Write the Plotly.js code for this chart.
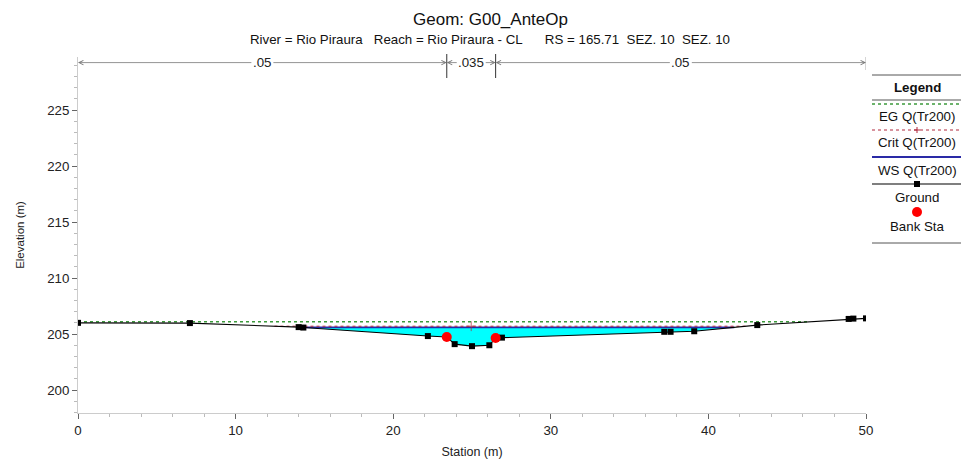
<!DOCTYPE html>
<html><head><meta charset="utf-8">
<script src="https://cdn.plot.ly/plotly-3.0.1.min.js"></script>
<style>html,body{margin:0;padding:0;background:#fff}#chart{width:961px;height:463px}</style>
</head><body><div id="chart"></div>
<script>
// ---- data ----
const station   = [0, 7.1, 14.0, 14.3, 22.2, 23.4, 23.9, 25.0, 26.1, 26.5, 26.9, 37.2, 37.6, 39.1, 43.1, 48.9, 49.2, 50.0];
const elevation = [206.0, 205.98, 205.62, 205.58, 204.82, 204.74, 204.1, 203.92, 204.0, 204.65, 204.68, 205.2, 205.2, 205.25, 205.8, 206.35, 206.38, 206.4];
const bankStations = [23.4, 26.5];
const nValues = ['.05', '.035', '.05'];
const profile = 'Q(Tr200)';
const wsElev = 205.6;
const critElev = 205.7;
const egElev = 206.1;
const titleText = 'Geom: G00_AnteOp';
const subtitleText = 'River = Rio Piraura\u00a0\u00a0 Reach = Rio Piraura - CL\u00a0\u00a0\u00a0\u00a0\u00a0 RS = 165.71\u00a0 SEZ. 10\u00a0 SEZ. 10';

// ---- helpers ----
function groundAt(x){
  for(let i=0;i<station.length-1;i++){
    if(x>=station[i] && x<=station[i+1]){
      const t=(x-station[i])/(station[i+1]-station[i]);
      return elevation[i]+t*(elevation[i+1]-elevation[i]);
    }
  }
  return elevation[elevation.length-1];
}
function extent(level){
  const iMin = elevation.indexOf(Math.min(...elevation));
  let xl = station[0], xr = station[station.length-1];
  for(let i=iMin;i>0;i--){
    if(elevation[i-1]>=level){
      const t=(level-elevation[i])/(elevation[i-1]-elevation[i]);
      xl = station[i]+(station[i-1]-station[i])*t; break;
    }
  }
  for(let i=iMin;i<station.length-1;i++){
    if(elevation[i+1]>=level){
      const t=(level-elevation[i])/(elevation[i+1]-elevation[i]);
      xr = station[i]+(station[i+1]-station[i])*t; break;
    }
  }
  return [xl,xr];
}

const [wl, wr] = extent(wsElev);
const [cl, cr] = extent(critElev);
const [el, er] = extent(egElev);

// water polygon
const polyX=[wl], polyY=[wsElev];
station.forEach((s,i)=>{ if(s>wl && s<wr){ polyX.push(s); polyY.push(elevation[i]); }});
polyX.push(wr, wl); polyY.push(wsElev, wsElev);

const chMid = (bankStations[0]+bankStations[1])/2;

const colEG='#3c9a3c', colCrit='#b0283c', colWS='#2a2aa6', colWater='#00ffff';

const traces = [
  {x:polyX, y:polyY, mode:'lines', fill:'toself', fillcolor:colWater, line:{width:0}, hoverinfo:'skip', name:'water'},
  {x:[wl,wr], y:[wsElev,wsElev], mode:'lines', line:{color:colWS, width:1.8}, name:'WS '+profile},
  {x:[cl,chMid,cr], y:[critElev,critElev,critElev], mode:'lines+markers', line:{color:colCrit, width:1, dash:'dot'},
   marker:{symbol:'cross-thin', size:[0,7,0], line:{color:colCrit, width:1}}, name:'Crit '+profile},
  {x:[el,er], y:[egElev,egElev], mode:'lines', line:{color:colEG, width:1.5, dash:'dot'}, name:'EG '+profile},
  {x:station, y:elevation, mode:'lines+markers', line:{color:'#000', width:1.1}, marker:{symbol:'square', size:6, color:'#000'}, name:'Ground'},
  {x:bankStations, y:bankStations.map(groundAt), mode:'markers', marker:{symbol:'circle', size:10, color:'#ff0000'}, name:'Bank Sta'}
];

// ---- pixel helpers for decorations ----
const L=78, R=866, T=57, B=413;
const px2x = px => (px-L)/(R-L);
const py2y = py => (B-py)/(B-T);

const yRange=[197.95, 229.74];
const yArrow = yRange[1]-0.5;

const annotations = [];
const shapes = [];

// titles
annotations.push({xref:'paper', yref:'paper', x:px2x(490), y:py2y(20), text:titleText, showarrow:false, font:{size:17, color:'#111'}, xanchor:'center', yanchor:'middle'});
annotations.push({xref:'paper', yref:'paper', x:px2x(490), y:py2y(39), text:subtitleText, showarrow:false, font:{size:13.3, color:'#111'}, xanchor:'center', yanchor:'middle'});

// n-values
const nBounds = [station[0], ...bankStations, station[station.length-1]];
for(let i=0;i<nValues.length;i++){
  const a=nBounds[i], b=nBounds[i+1], m=(a+b)/2;
  [a,b].forEach((tip,k)=>{
    annotations.push({xref:'x', yref:'y', axref:'x', ayref:'y', x:tip, y:yArrow, ax:m, ay:yArrow,
      text:nValues[i], showarrow:true, arrowhead:5, arrowsize:1.1, arrowwidth:0.8, arrowcolor:'#777', standoff:0,
      font:{size:13.3, color: k===0 ? '#222' : 'rgba(0,0,0,0)'}});
  });
}
bankStations.forEach(s=>{
  shapes.push({type:'line', xref:'x', yref:'paper', x0:s, x1:s, y0:py2y(78), y1:py2y(54), line:{color:'#333', width:1}});
});
shapes.push({type:'line', xref:'x', yref:'paper', x0:station[station.length-1], x1:station[station.length-1], y0:py2y(70), y1:py2y(57), line:{color:'#aaa', width:1}});

// custom legend
const lgL = px2x(872), lgR = px2x(961), lgC = px2x(917);
const hline = (py, color, width, dash) => shapes.push({type:'line', xref:'paper', yref:'paper', x0:lgL, x1:lgR, y0:py2y(py), y1:py2y(py), line:{color, width, dash:dash||'solid'}});
const ltext = (py, text, bold) => annotations.push({xref:'paper', yref:'paper', x:lgC, y:py2y(py), text: bold?'<b>'+text+'</b>':text, showarrow:false, font:{size:13.3, color:'#111'}, xanchor:'center', yanchor:'middle'});
hline(75, '#555', 1);
ltext(87, 'Legend', true);
hline(100, '#555', 1);
hline(104, colEG, 1.5, 'dot');  ltext(117, traces[3].name);
hline(130, colCrit, 1, 'dot');  ltext(142, traces[2].name);
shapes.push({type:'line', xref:'paper', yref:'paper', x0:px2x(914), x1:px2x(920), y0:py2y(130), y1:py2y(130), line:{color:colCrit, width:1}});
shapes.push({type:'line', xref:'paper', yref:'paper', x0:lgC, x1:lgC, y0:py2y(127), y1:py2y(133), line:{color:colCrit, width:1}});
hline(157, colWS, 1.8);         ltext(170, traces[1].name);
hline(184, '#000', 1.1);        ltext(197, traces[4].name);
shapes.push({type:'rect', xref:'paper', yref:'paper', x0:px2x(914), x1:px2x(920), y0:py2y(181), y1:py2y(187), fillcolor:'#000', line:{width:0}});
shapes.push({type:'circle', xref:'paper', yref:'paper', x0:px2x(912), x1:px2x(922), y0:py2y(207), y1:py2y(217), fillcolor:'#ff0000', line:{width:0}});
ltext(226, traces[5].name);
hline(243, '#555', 1);

const layout = {
  width:961, height:463,
  margin:{l:L, r:961-R, t:T, b:463-B, pad:0},
  paper_bgcolor:'#fff', plot_bgcolor:'#fff',
  showlegend:false,
  font:{family:'"Liberation Sans", Arial, sans-serif', size:13.3, color:'#222'},
  xaxis:{range:[0,50], dtick:10, tick0:0, ticks:'outside', ticklen:5, tickcolor:'#666', showline:true, linecolor:'#ccc', linewidth:1,
         showgrid:false, zeroline:false, tickfont:{size:13.3, color:'#222'},
         title:{text:'Station (m)', font:{size:12.5, color:'#222'}, standoff:10},
         minor:{dtick:2, ticks:'outside', ticklen:3, tickcolor:'#bbb', showgrid:false}},
  yaxis:{range:yRange, dtick:5, tick0:200, ticks:'outside', ticklen:5, tickcolor:'#666', showline:true, linecolor:'#ccc', linewidth:1,
         showgrid:false, zeroline:false, tickfont:{size:13.3, color:'#222'},
         title:{text:'Elevation (m)', font:{size:11.5, color:'#222'}, standoff:20},
         minor:{dtick:1, ticks:'outside', ticklen:3, tickcolor:'#bbb', showgrid:false}},
  annotations, shapes
};

Plotly.newPlot('chart', traces, layout, {displayModeBar:false, staticPlot:true});
</script>
</body></html>
